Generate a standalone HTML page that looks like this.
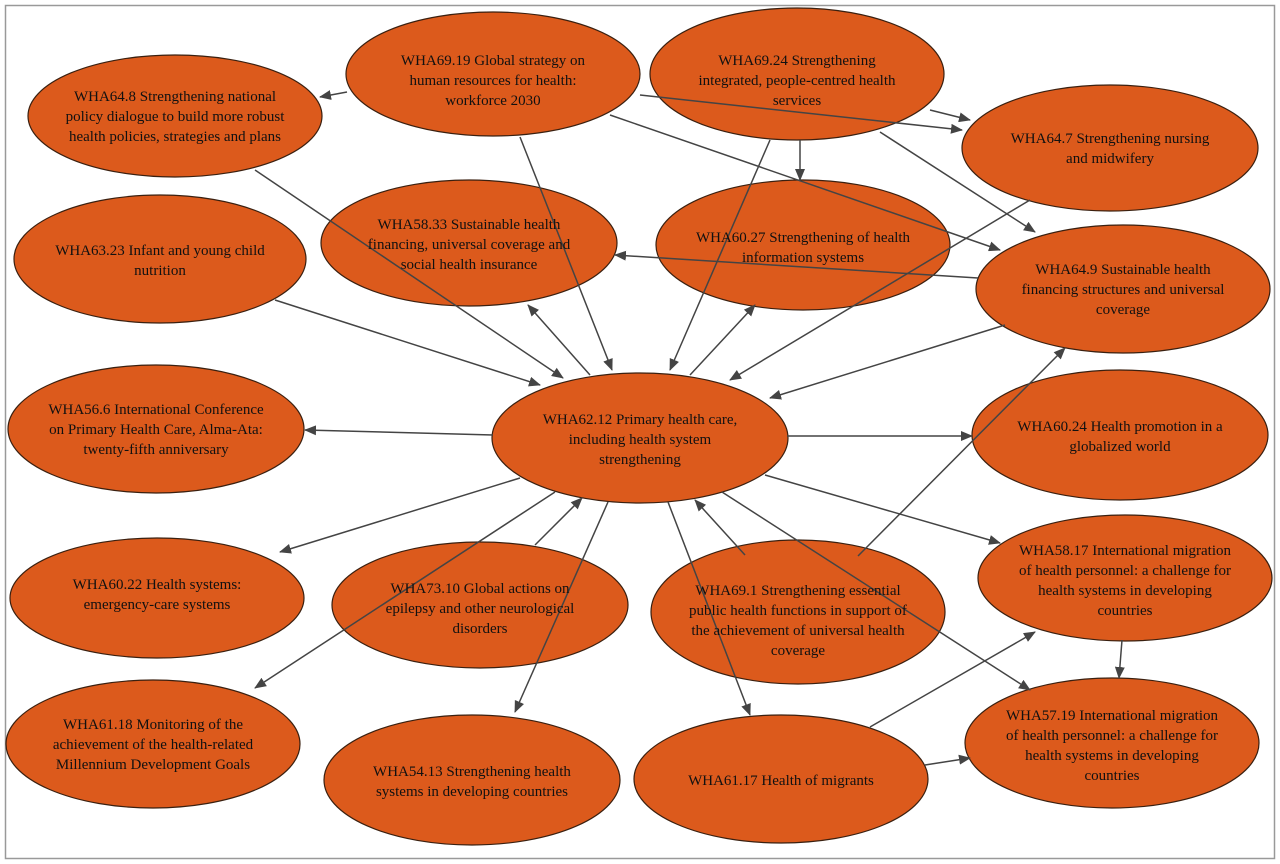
<!DOCTYPE html>
<html><head><meta charset="utf-8"><style>
html,body{margin:0;padding:0;background:#fff;width:1280px;height:864px;overflow:hidden}
text{font-family:"Liberation Serif",serif;font-size:15px;fill:#111;text-anchor:middle}
</style></head><body>
<svg width="1280" height="864" viewBox="0 0 1280 864" xmlns="http://www.w3.org/2000/svg">
<defs><marker id="a" markerWidth="12" markerHeight="10" refX="11" refY="5" orient="auto" markerUnits="userSpaceOnUse"><path d="M0,0 L12,5 L0,10 z" fill="#444"/></marker></defs>
<rect x="5.5" y="5.5" width="1269" height="853" fill="#fff" stroke="#999" stroke-width="1.5"/>
<g fill="#dc5a1c" stroke="#3a2010" stroke-width="1.2">
<ellipse cx="175" cy="116" rx="147" ry="61"/>
<ellipse cx="493" cy="74" rx="147" ry="62"/>
<ellipse cx="797" cy="74" rx="147" ry="66"/>
<ellipse cx="1110" cy="148" rx="148" ry="63"/>
<ellipse cx="160" cy="259" rx="146" ry="64"/>
<ellipse cx="469" cy="243" rx="148" ry="63"/>
<ellipse cx="803" cy="245" rx="147" ry="65"/>
<ellipse cx="1123" cy="289" rx="147" ry="64"/>
<ellipse cx="156" cy="429" rx="148" ry="64"/>
<ellipse cx="640" cy="438" rx="148" ry="65"/>
<ellipse cx="1120" cy="435" rx="148" ry="65"/>
<ellipse cx="157" cy="598" rx="147" ry="60"/>
<ellipse cx="480" cy="605" rx="148" ry="63"/>
<ellipse cx="798" cy="612" rx="147" ry="72"/>
<ellipse cx="1125" cy="578" rx="147" ry="63"/>
<ellipse cx="153" cy="744" rx="147" ry="64"/>
<ellipse cx="472" cy="780" rx="148" ry="65"/>
<ellipse cx="781" cy="779" rx="147" ry="64"/>
<ellipse cx="1112" cy="743" rx="147" ry="65"/>
</g>
<g stroke="#444" stroke-width="1.5" fill="none" marker-end="url(#a)">
<line x1="347" y1="92" x2="320" y2="97"/>
<line x1="640" y1="95" x2="962" y2="130"/>
<line x1="930" y1="110" x2="970" y2="120"/>
<line x1="610" y1="115" x2="1000" y2="250"/>
<line x1="880" y1="132" x2="1035" y2="232"/>
<line x1="520" y1="137" x2="612" y2="370"/>
<line x1="800" y1="140" x2="800" y2="180"/>
<line x1="770" y1="140" x2="670" y2="370"/>
<line x1="255" y1="170" x2="563" y2="378"/>
<line x1="275" y1="300" x2="540" y2="385"/>
<line x1="590" y1="375" x2="528" y2="305"/>
<line x1="978" y1="278" x2="615" y2="255"/>
<line x1="690" y1="375" x2="755" y2="305"/>
<line x1="1030" y1="200" x2="730" y2="380"/>
<line x1="1005" y1="325" x2="770" y2="398"/>
<line x1="493" y1="435" x2="305" y2="430"/>
<line x1="787" y1="436" x2="972" y2="436"/>
<line x1="520" y1="478" x2="280" y2="552"/>
<line x1="555" y1="492" x2="255" y2="688"/>
<line x1="535" y1="545" x2="582" y2="498"/>
<line x1="608" y1="502" x2="515" y2="712"/>
<line x1="668" y1="502" x2="750" y2="715"/>
<line x1="745" y1="555" x2="695" y2="500"/>
<line x1="858" y1="556" x2="1065" y2="348"/>
<line x1="765" y1="475" x2="1000" y2="543"/>
<line x1="722" y1="492" x2="1030" y2="690"/>
<line x1="1122" y1="640" x2="1119" y2="678"/>
<line x1="870" y1="727" x2="1035" y2="632"/>
<line x1="925" y1="765" x2="970" y2="758"/>
</g>
<text x="175" y="101">WHA64.8 Strengthening national</text>
<text x="175" y="121">policy dialogue to build more robust</text>
<text x="175" y="141">health policies, strategies and plans</text>
<text x="493" y="65">WHA69.19 Global strategy on</text>
<text x="493" y="85">human resources for health:</text>
<text x="493" y="105">workforce 2030</text>
<text x="797" y="65">WHA69.24 Strengthening</text>
<text x="797" y="85">integrated, people-centred health</text>
<text x="797" y="105">services</text>
<text x="1110" y="143">WHA64.7 Strengthening nursing</text>
<text x="1110" y="163">and midwifery</text>
<text x="160" y="255">WHA63.23 Infant and young child</text>
<text x="160" y="275">nutrition</text>
<text x="469" y="229">WHA58.33 Sustainable health</text>
<text x="469" y="249">financing, universal coverage and</text>
<text x="469" y="269">social health insurance</text>
<text x="803" y="242">WHA60.27 Strengthening of health</text>
<text x="803" y="262">information systems</text>
<text x="1123" y="274">WHA64.9 Sustainable health</text>
<text x="1123" y="294">financing structures and universal</text>
<text x="1123" y="314">coverage</text>
<text x="156" y="414">WHA56.6 International Conference</text>
<text x="156" y="434">on Primary Health Care, Alma-Ata:</text>
<text x="156" y="454">twenty-fifth anniversary</text>
<text x="640" y="424">WHA62.12 Primary health care,</text>
<text x="640" y="444">including health system</text>
<text x="640" y="464">strengthening</text>
<text x="1120" y="431">WHA60.24 Health promotion in a</text>
<text x="1120" y="451">globalized world</text>
<text x="157" y="589">WHA60.22 Health systems:</text>
<text x="157" y="609">emergency-care systems</text>
<text x="480" y="593">WHA73.10 Global actions on</text>
<text x="480" y="613">epilepsy and other neurological</text>
<text x="480" y="633">disorders</text>
<text x="798" y="595">WHA69.1 Strengthening essential</text>
<text x="798" y="615">public health functions in support of</text>
<text x="798" y="635">the achievement of universal health</text>
<text x="798" y="655">coverage</text>
<text x="1125" y="555">WHA58.17 International migration</text>
<text x="1125" y="575">of health personnel: a challenge for</text>
<text x="1125" y="595">health systems in developing</text>
<text x="1125" y="615">countries</text>
<text x="153" y="729">WHA61.18 Monitoring of the</text>
<text x="153" y="749">achievement of the health-related</text>
<text x="153" y="769">Millennium Development Goals</text>
<text x="472" y="776">WHA54.13 Strengthening health</text>
<text x="472" y="796">systems in developing countries</text>
<text x="781" y="785">WHA61.17 Health of migrants</text>
<text x="1112" y="720">WHA57.19 International migration</text>
<text x="1112" y="740">of health personnel: a challenge for</text>
<text x="1112" y="760">health systems in developing</text>
<text x="1112" y="780">countries</text>
</svg>
</body></html>
